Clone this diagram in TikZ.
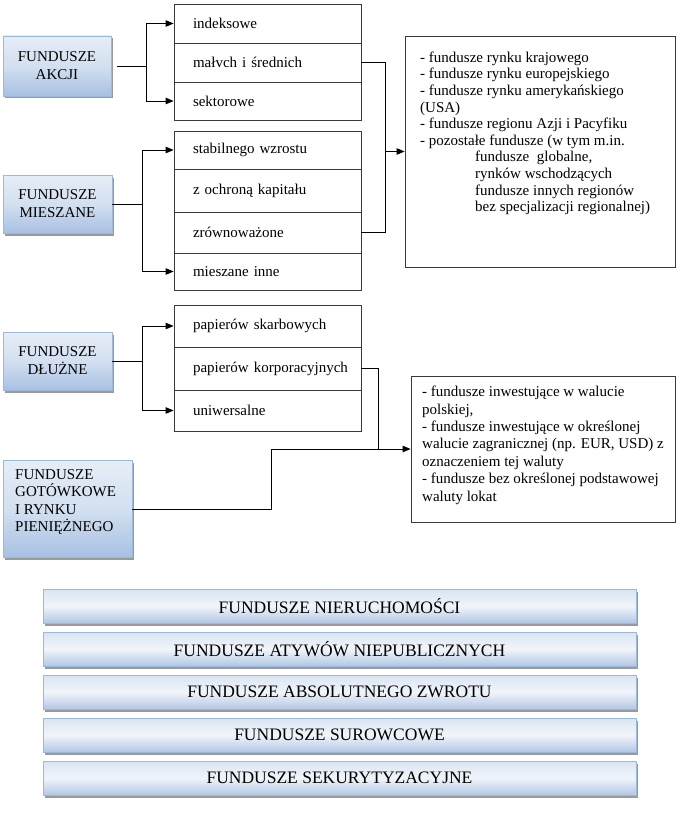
\documentclass[tikz,border=0pt]{standalone}
\usepackage{fontspec}
\setmainfont{Liberation Serif}
\usetikzlibrary{arrows.meta}
\definecolor{bluetop}{HTML}{E6EDF7}
\definecolor{bluemid}{HTML}{D3E0F0}
\definecolor{bluebot}{HTML}{A7C0E2}
\definecolor{bartop}{HTML}{D9E4F1}
\definecolor{barmid}{HTML}{F1F5FA}
\definecolor{barbot}{HTML}{B2C7E4}
\definecolor{blueedge}{HTML}{9CB8DA}
\definecolor{shadowc}{HTML}{9A9A9A}
\definecolor{rowline}{HTML}{3A3A3A}
\begin{document}
\begin{tikzpicture}[x=1pt,y=-1pt,
  shadowed/.style={preaction={fill=shadowc, transform canvas={xshift=2pt,yshift=-2.5pt}}},
  fundbox/.style={shadowed, draw=blueedge, line width=0.8pt, top color=bluetop, bottom color=bluebot, middle color=bluemid,
    inner sep=0pt, align=center, font=\fontsize{15}{18}\selectfont},
  barbox/.style={shadowed, draw=blueedge, line width=0.8pt, top color=bartop, bottom color=barbot, middle color=barmid,
    inner sep=0pt, minimum width=593pt, minimum height=34pt, font=\fontsize{17.5}{20}\selectfont},
  rowbox/.style={draw=rowline, line width=0.8pt, minimum width=187pt, text width=187pt, inner xsep=0pt, inner ysep=0pt,
    align=left, font=\fontsize{15}{18}\selectfont, execute at begin node={\hspace*{19pt}}},
  infobox/.style={draw=rowline, line width=0.8pt, inner sep=0pt},
  infotext/.style={anchor=north west, inner sep=0pt, align=left},
  conn/.style={line width=0.9pt, black},
  arr/.style={conn, -{Triangle[length=8pt,width=6.5pt]}}
]
\useasboundingbox (0,0) rectangle (676,832);

% left category boxes
\node[fundbox, minimum width=108pt, minimum height=60pt] (akcji) at (57,66) {FUNDUSZE\\AKCJI};
\node[fundbox, minimum width=109pt, minimum height=58pt] (mieszane) at (57.5,204) {FUNDUSZE\\MIESZANE};
\node[fundbox, minimum width=109pt, minimum height=58pt] (dluzne) at (57.5,361) {FUNDUSZE\\DŁUŻNE};
\node[fundbox, minimum width=129pt, minimum height=97pt] (gotow) at (67.5,509) {};
\node[anchor=north west, inner sep=0pt, align=left, font=\fontsize{15}{17.5}\selectfont] (gotowt) at (15,469)
  {FUNDUSZE\\GOTÓWKOWE\\I RYNKU\\PIENIĘŻNEGO};

% group 1
\node[rowbox, minimum height=39pt] (r1a) at (267.5,23.5) {indeksowe};
\node[rowbox, minimum height=39pt] (r1b) at (267.5,62.5) {małvch i średnich};
\node[rowbox, minimum height=38pt] (r1c) at (267.5,101) {sektorowe};
% group 2
\node[rowbox, minimum height=38pt] (r2a) at (267.5,150) {stabilnego wzrostu};
\node[rowbox, minimum height=43pt] (r2b) at (267.5,190.5) {z ochroną kapitału};
\node[rowbox, minimum height=41pt] (r2c) at (267.5,232.5) {zrównoważone};
\node[rowbox, minimum height=37pt] (r2d) at (267.5,271.5) {mieszane inne};
% group 3
\node[rowbox, minimum height=42pt] (r3a) at (267.5,326) {papierów skarbowych};
\node[rowbox, minimum height=43pt] (r3b) at (267.5,368.5) {papierów korporacyjnych};
\node[rowbox, minimum height=41pt] (r3c) at (267.5,410.5) {uniwersalne};

% right info boxes
\node[infobox, minimum width=270pt, minimum height=231pt] (box1) at (540,151.5) {};
\node[infotext, font=\fontsize{15}{16.6}\selectfont] (box1t) at (420,51.5) {%
- fundusze rynku krajowego\\
- fundusze rynku europejskiego\\
- fundusze rynku amerykańskiego\\
(USA)\\
- fundusze regionu Azji i Pacyfiku\\
- pozostałe fundusze (w tym m.in.\\
\hspace*{55pt}fundusze\ \ globalne,\\
\hspace*{55pt}rynków wschodzących\\
\hspace*{55pt}fundusze innych regionów\\
\hspace*{55pt}bez specjalizacji regionalnej)};

\node[infobox, minimum width=264pt, minimum height=146pt] (box2) at (543,449) {};
\node[infotext, font=\fontsize{15}{17.4}\selectfont] (box2t) at (422,386) {%
- fundusze inwestujące w walucie\\
polskiej,\\
- fundusze inwestujące w określonej\\
walucie zagranicznej (np. EUR, USD) z\\
oznaczeniem tej waluty\\
- fundusze bez określonej podstawowej\\
waluty lokat};

% bottom bars
\node[barbox] (b1) at (339.5,606) {FUNDUSZE NIERUCHOMOŚCI};
\node[barbox] (b2) at (339.5,649) {FUNDUSZE ATYWÓW NIEPUBLICZNYCH};
\node[barbox] (b3) at (339.5,692) {FUNDUSZE ABSOLUTNEGO ZWROTU};
\node[barbox] (b4) at (339.5,735) {FUNDUSZE SUROWCOWE};
\node[barbox] (b5) at (339.5,778) {FUNDUSZE SEKURYTYZACYJNE};

% connectors left
\coordinate (ba) at (146,66);
\draw[conn] ([xshift=6pt]akcji.east) -- (ba);
\draw[arr] (ba) |- (r1a.west);
\draw[arr] (ba) |- (r1c.west);

\coordinate (bm) at (142,204);
\draw[conn] (mieszane.east) -- (bm);
\draw[arr] (bm) |- (r2a.west);
\draw[arr] (bm) |- (r2d.west);

\coordinate (bd) at (142,361);
\draw[conn] (dluzne.east) -- (bd);
\draw[arr] (bd) |- (r3a.west);
\draw[arr] (bd) |- (r3c.west);

% connectors right
\coordinate (rc1) at (385,151.5);
\draw[conn] (r1b.east) -| (rc1);
\draw[conn] (r2c.east) -| (rc1);
\draw[arr] (rc1) -- (box1.west);

\coordinate (rc2) at (378,449);
\coordinate (gk) at (271,449);
\draw[conn] (r3b.east) -| (rc2);
\draw[conn] (gotow.east) -| (gk) -- (rc2);
\draw[arr] (rc2) -- (box2.west);
\end{tikzpicture}
\end{document}
